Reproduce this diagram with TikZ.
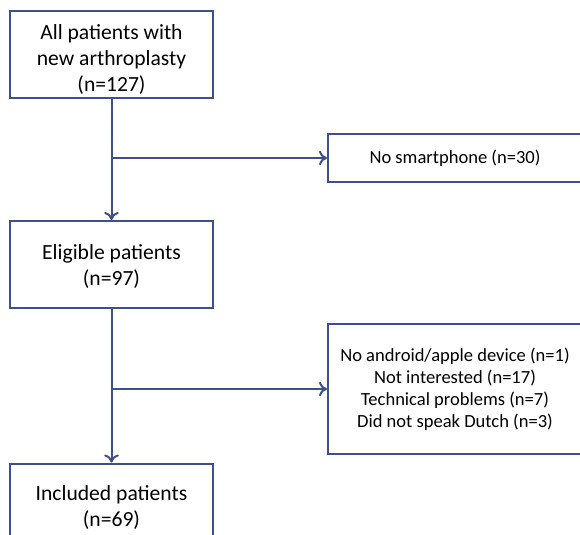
\documentclass[tikz,border=0pt]{standalone}
\usepackage{fontspec}
\setmainfont{Carlito}
\usetikzlibrary{arrows.meta}
\definecolor{flowblue}{RGB}{64,80,135}

\begin{document}
\begin{tikzpicture}[x=0.75pt,y=-0.75pt,
  mainbox/.style={draw=flowblue, line width=1.5pt, minimum width=203*0.75pt,
    minimum height=87*0.75pt, align=center, font=\fontsize{16.2}{19.5}\selectfont, inner sep=0pt},
  sidebox/.style={draw=flowblue, line width=1.5pt, minimum width=254*0.75pt,
    align=center, font=\fontsize{13.9}{16.5}\selectfont, inner sep=0pt},
  flow/.style={draw=flowblue, line width=1.5pt, -{To[length=6pt,width=11pt]}}]
  \useasboundingbox (0,0) rectangle (580,534);
  \clip (0,0) rectangle (580,534);
  \node[mainbox] (all) at (111.5,54.5) {\rule{0pt}{19pt}All patients with\\new arthroplasty\\(n=127)};
  \node[sidebox, minimum height=48*0.75pt] (nophone) at (455,158) {No smartphone (n=30)};
  \node[mainbox] (elig) at (111.5,264.5) {\rule{0pt}{14pt}Eligible patients\\(n=97)};
  \node[sidebox, minimum height=130*0.75pt] (excl) at (455,389) {No android/apple device (n=1)\\Not interested (n=17)\\Technical problems (n=7)\\Did not speak Dutch (n=3)};
  \node[mainbox] (incl) at (111.5,507) {Included patients\\(n=69)};
  \draw[flow] (all) -- (elig);
  \draw[flow] (all.south |- nophone) -- (nophone);
  \draw[flow] (elig) -- (incl);
  \draw[flow] (elig.south |- excl) -- (excl);
\end{tikzpicture}
\end{document}
